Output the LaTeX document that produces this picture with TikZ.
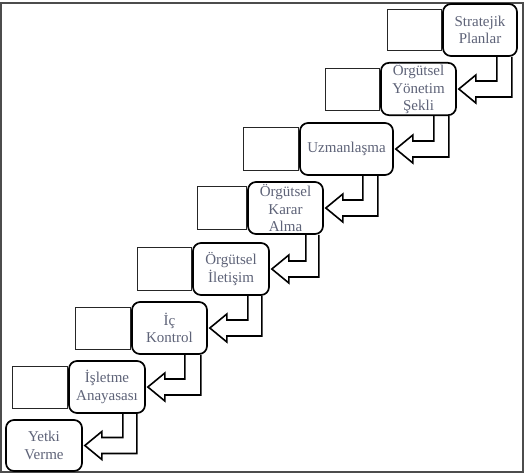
\documentclass[tikz,border=0pt]{standalone}
\usepackage{fontspec}
\setmainfont{Liberation Serif}
\usepackage{tikz}
\usetikzlibrary{calc}
\definecolor{labelgray}{HTML}{5E6378}
\newcommand{\stairarrow}[4]{
  \draw[stairline] let \p1=(#1.south east), \p2=(#2.east) in
    (\x1-#3pt,\y1) -- (\x1-#3pt,\y2+8pt) -- (\x2+19pt,\y2+8pt) -- (\x2+19pt,\y2+14pt)
    -- (\x2+2pt,\y2) -- (\x2+19pt,\y2-14pt) -- (\x2+19pt,\y2-8pt)
    -- (\x1-#4pt,\y2-8pt) -- (\x1-#4pt,\y1);
}

\begin{document}
\begin{tikzpicture}[x=1pt,y=-1pt]
\tikzstyle{stage}=[draw,line width=1.7pt,rounded corners=8pt,fill=white,minimum width=75pt,minimum height=52pt,
  inner sep=1pt,align=center,text=labelgray,font=\fontsize{15}{17.5}\selectfont]
\tikzstyle{tab}=[draw,line width=1pt,black!85,minimum width=55pt,minimum height=42pt,inner sep=0pt,anchor=east]
\tikzstyle{stairline}=[line width=1.6pt,line join=miter]
\useasboundingbox (0,0) rectangle (528,475);
\draw[line width=1.5pt,black!70] (1,3) rectangle (523,472);
%\node[stage] at (480,30) {};
\node[stage,minimum width=74pt] (strat) at (480,30) {Stratejik\\Planlar};
\node[stage] (yonetim) at (418.5,89) {Örgütsel\\Yönetim\\Şekli};
\node[stage,minimum width=93pt] (uzman) at (346.5,149) {Uzmanlaşma};
\node[stage] (karar) at (285.5,208) {Örgütsel\\Karar\\Alma};
\node[stage,minimum width=76pt] (iletisim) at (231,269) {Örgütsel\\İletişim};
\node[stage] (kontrol) at (169.5,328) {İç\\Kontrol};
\node[stage,minimum width=76pt] (anayasa) at (107,387) {İşletme\\Anayasası};
\node[stage,minimum width=76pt,minimum height=51pt] (yetki) at (44,445.5) {Yetki\\Verme};

\node[tab,minimum width=54pt,minimum height=41pt] (strat-tab) at (strat.west) {};
\node[tab,minimum width=54pt] (yonetim-tab) at (yonetim.west) {};
\node[tab,minimum height=43pt] (uzman-tab) at (uzman.west) {};
\node[tab,minimum width=49pt,minimum height=43pt] (karar-tab) at (karar.west) {};
\node[tab,minimum width=54pt,minimum height=43pt] (iletisim-tab) at (iletisim.west) {};
\node[tab] (kontrol-tab) at (kontrol.west) {};
\node[tab] (anayasa-tab) at (anayasa.west) {};

\stairarrow{strat}{yonetim}{21}{6}
\stairarrow{yonetim}{uzman}{23}{8}
\stairarrow{uzman}{karar}{31}{16}
\stairarrow{karar}{iletisim}{18}{5}
\stairarrow{iletisim}{kontrol}{22}{8}
\stairarrow{kontrol}{anayasa}{23}{7}
\stairarrow{anayasa}{yetki}{23}{9}
\end{tikzpicture}
\end{document}
